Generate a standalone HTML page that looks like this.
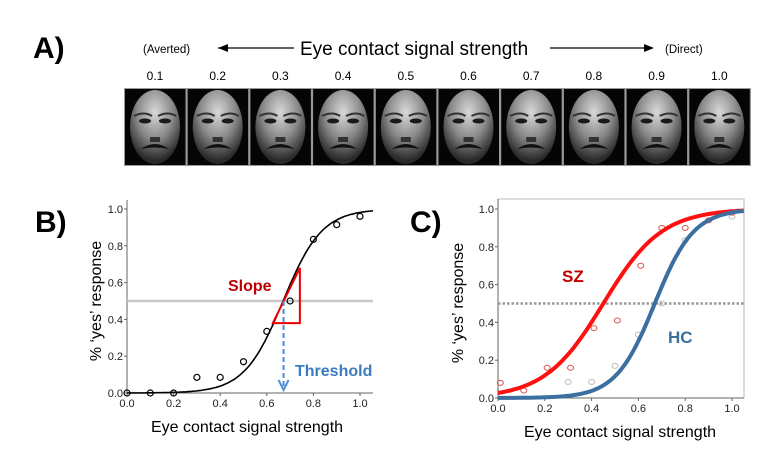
<!DOCTYPE html>
<html><head><meta charset="utf-8">
<style>
html,body{margin:0;padding:0;background:#fff;}
svg{display:block;font-family:"Liberation Sans",Arial,sans-serif;}
</style></head>
<body>
<svg id="s" width="768" height="456" viewBox="0 0 768 456" xmlns="http://www.w3.org/2000/svg">
<defs>
<radialGradient id="fg" cx="0.5" cy="0.3" r="0.65">
<stop offset="0" stop-color="#d8d8d8"/><stop offset="0.55" stop-color="#8a8a8a"/><stop offset="1" stop-color="#2a2a2a"/>
</radialGradient>
</defs>
<text x="33" y="58" font-size="30" font-weight="bold">A)</text>
<text x="143" y="53" font-size="11.5">(Averted)</text>
<line x1="218" y1="48" x2="294" y2="48" stroke="#000" stroke-width="1.3"/>
<path d="M218 48 l10 -4 v8 z" fill="#000"/>
<text x="300" y="55" font-size="19">Eye contact signal strength</text>
<line x1="550" y1="48" x2="647" y2="48" stroke="#000" stroke-width="1.3"/>
<path d="M654 48 l-10 -4 v8 z" fill="#000"/>
<text x="665" y="53" font-size="11.5">(Direct)</text>
<g id="faces"></g>
<text x="35" y="232" font-size="30" font-weight="bold">B)</text>
<g id="B"></g>
<text x="410" y="232" font-size="30" font-weight="bold">C)</text>
<g id="C"></g>
</svg>
<script>
const NS="http://www.w3.org/2000/svg";
function el(p,t,a,txt){const e=document.createElementNS(NS,t);for(const k in a)e.setAttribute(k,a[k]);if(txt!==undefined)e.textContent=txt;p.appendChild(e);return e;}
const F=document.getElementById('faces');
el(F,'rect',{x:124,y:88,width:627,height:78,fill:'#999'});
for(let i=0;i<10;i++){
  const x=124+i*62.7;
  el(F,'rect',{x:x+1,y:89,width:60.5,height:76,fill:'#050505'});
  const cx=x+31;
  el(F,'ellipse',{cx:cx,cy:127,rx:25,ry:37,fill:'url(#fg)'});
  el(F,'path',{d:`M${cx-21} 116 q10 -5 18 0 M${cx+3} 116 q10 -5 18 0`,fill:'none',stroke:'#333','stroke-width':2});
  el(F,'ellipse',{cx:cx-10,cy:121,rx:6,ry:2.5,fill:'#1a1a1a'});
  el(F,'ellipse',{cx:cx+10,cy:121,rx:6,ry:2.5,fill:'#1a1a1a'});
  el(F,'rect',{x:cx-5,y:137,width:10,height:5,fill:'#333'});
  el(F,'path',{d:`M${cx-14} 149 q14 -10 28 0 q-14 -3 -28 0z`,fill:'#111'});
  el(F,'text',{x:cx,y:80,'font-size':'12','text-anchor':'middle'},(i+1===10?'1.0':'0.'+(i+1)));
}
function logi(x,m,k){return 1/(1+Math.exp(-k*(x-m)));}
function panel(g,x0,x1,y0,y1,right,top,box){
  const X=v=>x0+v*(x1-x0), Y=v=>y0-v*(y0-y1);
  if(box){el(g,'rect',{x:x0,y:top,width:right-x0,height:y0-top,fill:'none',stroke:'#bbb','stroke-width':1});}
  el(g,'line',{x1:x0,y1:top,x2:x0,y2:y0,stroke:'#666','stroke-width':1});
  el(g,'line',{x1:x0,y1:y0,x2:right,y2:y0,stroke:'#666','stroke-width':1});
  for(let i=0;i<=5;i++){const v=i*0.2;
    el(g,'line',{x1:x0-3,y1:Y(v),x2:x0,y2:Y(v),stroke:'#666'});
    el(g,'text',{x:x0-4,y:Y(v)+4,'font-size':'11','text-anchor':'end',fill:'#222'},v.toFixed(1));
    el(g,'line',{x1:X(v),y1:y0,x2:X(v),y2:y0+3,stroke:'#666'});
    el(g,'text',{x:X(v),y:y0+14,'font-size':'11','text-anchor':'middle',fill:'#222'},v.toFixed(1));
  }
  return {X,Y};
}
function curve(X,Y,m,k,xmax){let d='';for(let i=0;i<=100;i++){const v=i/100*xmax;d+=(i?'L':'M')+X(v).toFixed(1)+' '+Y(logi(v,m,k)).toFixed(1);}return d;}
const B=document.getElementById('B');
let b=panel(B,127,360,393,209,373,200,false);
el(B,'line',{x1:127,y1:b.Y(0.5),x2:373,y2:b.Y(0.5),stroke:'#c8c8c8','stroke-width':2.5});
el(B,'path',{d:curve(b.X,b.Y,0.67,12,1.056),fill:'none',stroke:'#000','stroke-width':1.6});
[[0,0],[0.1,0],[0.2,0],[0.3,0.085],[0.4,0.085],[0.5,0.17],[0.6,0.335],[0.7,0.5],[0.8,0.835],[0.9,0.915],[1.0,0.96]].forEach(p=>el(B,'circle',{cx:b.X(p[0]),cy:b.Y(p[1]),r:3,fill:'none',stroke:'#000','stroke-width':1.2}));
el(B,'path',{d:`M${b.X(0.626)} ${b.Y(0.38)} L${b.X(0.742)} ${b.Y(0.38)} L${b.X(0.742)} ${b.Y(0.68)} Z`,fill:'none',stroke:'#e00','stroke-width':2});
el(B,'text',{x:228,y:291,'font-size':'16','font-weight':'bold',fill:'#c00000'},'Slope');
el(B,'line',{x1:b.X(0.672),y1:b.Y(0.5),x2:b.X(0.672),y2:386,stroke:'#4a90d9','stroke-width':2,'stroke-dasharray':'5,3'});
el(B,'path',{d:`M${b.X(0.672)-5} 380 L${b.X(0.672)} 390 L${b.X(0.672)+5} 380`,fill:'none',stroke:'#4a90d9','stroke-width':2});
el(B,'text',{x:295,y:376,'font-size':'16','font-weight':'bold',fill:'#3a7cc0'},'Threshold');
el(B,'text',{x:0,y:0,'font-size':'16','text-anchor':'middle',transform:'translate(101,301) rotate(-90)'},'% \u2018yes\u2019 response');
el(B,'text',{x:247,y:432,'font-size':'16','text-anchor':'middle'},'Eye contact signal strength');
const C=document.getElementById('C');
let c=panel(C,498,732,398,209,744,199,true);
el(C,'line',{x1:498,y1:c.Y(0.5),x2:744,y2:c.Y(0.5),stroke:'#999','stroke-width':2.5,'stroke-dasharray':'2.5,2'});
[[0.3,0.085],[0.4,0.085],[0.5,0.17],[0.6,0.335],[0.7,0.5],[0.8,0.835],[1.0,0.96]].forEach(p=>el(C,'ellipse',{cx:c.X(p[0]),cy:c.Y(p[1]),rx:3,ry:2.5,fill:'none',stroke:'#bbb','stroke-width':1}));
[[0.01,0.08],[0.11,0.04],[0.21,0.16],[0.31,0.16],[0.41,0.37],[0.51,0.41],[0.61,0.7],[0.7,0.9],[0.8,0.9],[0.9,0.94],[1.0,0.98]].forEach(p=>el(C,'ellipse',{cx:c.X(p[0]),cy:c.Y(p[1]),rx:3,ry:2.5,fill:'none',stroke:'#e05050','stroke-width':1}));
el(C,'path',{d:curve(c.X,c.Y,0.45,8,1.05),fill:'none',stroke:'#ff1010','stroke-width':4});
el(C,'path',{d:curve(c.X,c.Y,0.67,12,1.05),fill:'none',stroke:'#3a6fa0','stroke-width':4});
el(C,'text',{x:562,y:282,'font-size':'17','font-weight':'bold',fill:'#c00000'},'SZ');
el(C,'text',{x:668,y:343,'font-size':'17','font-weight':'bold',fill:'#3a6fa0'},'HC');
el(C,'text',{x:0,y:0,'font-size':'16','text-anchor':'middle',transform:'translate(463,303) rotate(-90)'},'% \u2018yes\u2019 response');
el(C,'text',{x:620,y:437,'font-size':'16','text-anchor':'middle'},'Eye contact signal strength');
</script>
</body></html>
